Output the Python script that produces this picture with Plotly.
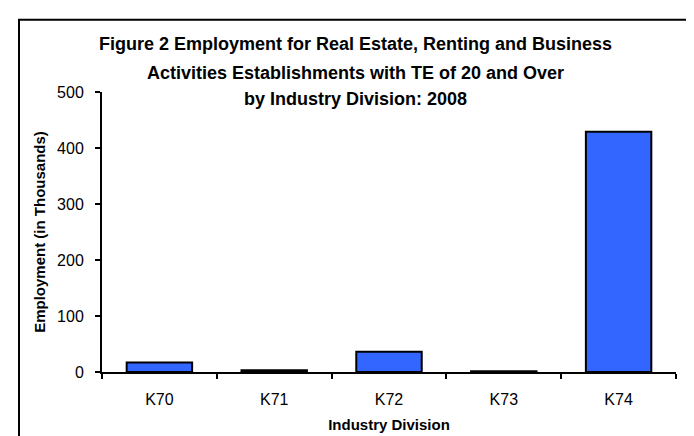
import plotly.graph_objects as go

categories = ["K70", "K71", "K72", "K73", "K74"]
employment = [17, 3, 36, 1.5, 429]
y_ticks = [0, 100, 200, 300, 400, 500]
title_lines = [
    "Figure 2 Employment for Real Estate, Renting and Business",
    "Activities Establishments with TE of 20 and Over",
    "by Industry Division: 2008",
]

W, H = 694, 436
L, R, T, B = 94, 26, 83.5, 72
pw, ph = W - L - R, H - T - B

fig = go.Figure(go.Bar(
    x=categories, y=employment,
    marker=dict(color="#3366FF", line=dict(color="black", width=2)),
    width=0.57,
))

font_fam = "Liberation Sans, Arial, sans-serif"

# title lines (centred on the whole chart, Excel-like spacing)
line_centres_px = [35.5, 64, 91]
annotations = [
    dict(text=t, xref="paper", x=(W / 2 - L) / pw, xanchor="center",
         yref="paper", y=(H - B - py) / ph, yanchor="middle",
         showarrow=False, font=dict(size=18, family=font_fam, weight="bold", color="black"))
    for t, py in zip(title_lines, line_centres_px)
]

fig.update_layout(
    width=W, height=H,
    margin=dict(l=L, r=R, t=T, b=B),
    paper_bgcolor="white", plot_bgcolor="white",
    showlegend=False,
    font=dict(family=font_fam, color="black"),
    annotations=annotations,
    xaxis=dict(
        showline=True, linecolor="black", linewidth=2,
        ticks="outside", ticklen=5, tickcolor="black", tickwidth=2,
        tickson="boundaries",
        tickfont=dict(size=16),
        ticklabelstandoff=12,
        title=dict(text="Industry Division", font=dict(size=15, weight="bold"), standoff=12),
        showgrid=False,
    ),
    yaxis=dict(
        range=[0, 500], tickvals=y_ticks,
        showline=True, linecolor="black", linewidth=2,
        ticks="outside", ticklen=5, tickcolor="black", tickwidth=2,
        tickfont=dict(size=16),
        ticklabelstandoff=8,
        title=dict(text="Employment (in Thousands)", font=dict(size=15, weight="bold"), standoff=8),
        showgrid=False, zeroline=False,
    ),
    shapes=[dict(
        type="rect", xref="paper", yref="paper",
        x0=(11 - L) / pw, x1=(W + 10 - L) / pw,
        y0=(H - B - (H + 10)) / ph, y1=(H - B - 11) / ph,
        line=dict(color="black", width=2), fillcolor="rgba(0,0,0,0)",
        layer="below",
    )],
)

fig.write_html("out.html")
